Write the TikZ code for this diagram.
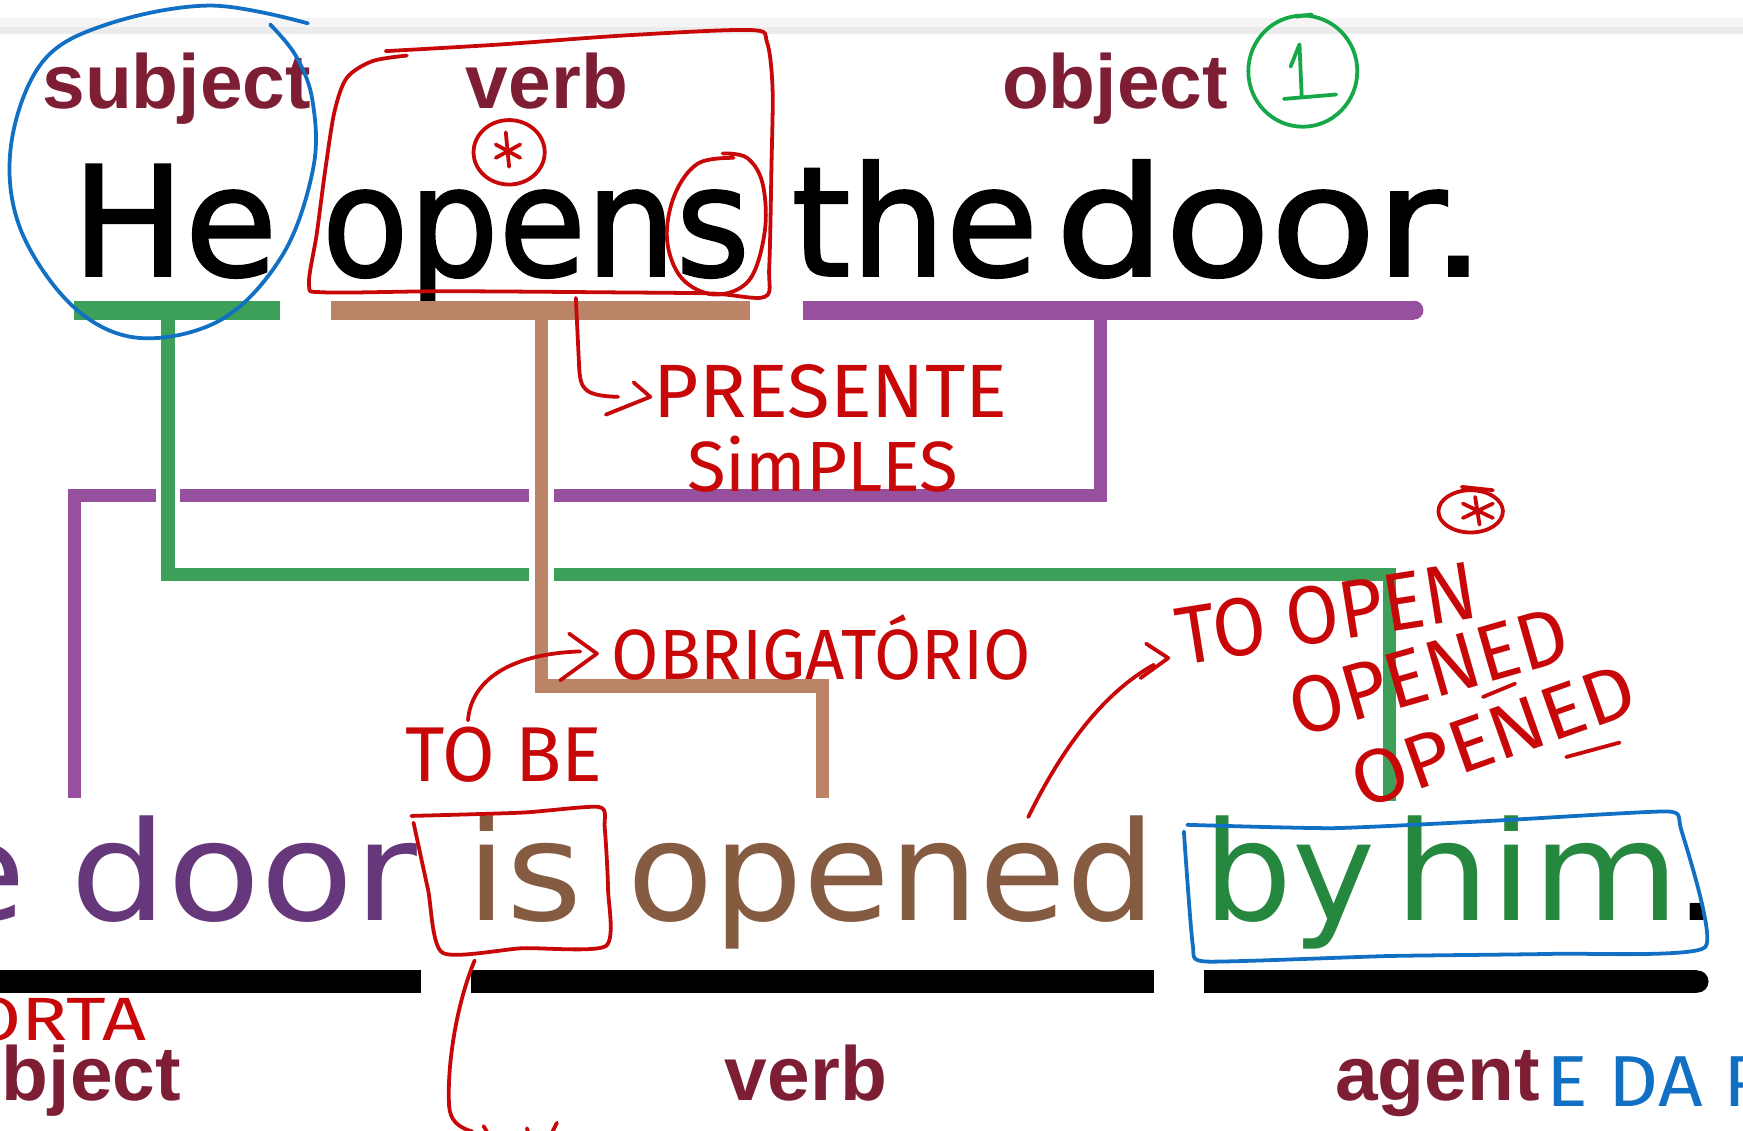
\documentclass[tikz,border=0pt]{standalone}
\usepackage{fontspec}
\usepackage{graphicx}
\setmainfont{Liberation Sans}
\newfontfamily\bigfont{DejaVu Sans}[FakeBold=1.6]
\newfontfamily\smfont{DejaVu Sans}
\newfontfamily\handfont{Fira Sans}
\definecolor{labred}{RGB}{125,30,52}
\definecolor{lgreen}{RGB}{60,160,88}
\definecolor{lbrown}{RGB}{188,132,102}
\definecolor{lpurple}{RGB}{150,80,158}
\definecolor{tpurple}{RGB}{102,55,122}
\definecolor{tbrown}{RGB}{133,92,66}
\definecolor{tgreen}{RGB}{38,135,62}
\definecolor{hred}{RGB}{200,8,8}
\definecolor{hblue}{RGB}{18,112,196}
\definecolor{hgreen}{RGB}{22,168,72}
\newcommand\fsz[1]{\fontsize{#1}{#1}\selectfont}
\begin{document}
\begin{tikzpicture}[x=1pt,y=-1pt,
  lab/.style={font=\fsz{69}\bfseries, text=labred, inner sep=0, anchor=base},
  bigw/.style={font=\bigfont\fsz{137}, text=black, inner sep=0, anchor=base},
  smw/.style={font=\smfont\fsz{124}, inner sep=0, anchor=base},
  ubar/.style={line width=17},
  blackbar/.style={line width=20, draw=black},
  conn/.style={line width=12},
  gapfill/.style={fill=white},
  hand/.style={draw=hred, line width=3.4, line cap=round, line join=round},
  handb/.style={draw=hblue, line width=3.4, line cap=round, line join=round},
  handg/.style={draw=hgreen, line width=3.4, line cap=round, line join=round},
  htext/.style={inner sep=0, anchor=base, text=hred},
]
\useasboundingbox (0,0) rectangle (1568,1017);
\clip (0,0) rectangle (1568,1017);
\fill[white] (0,0) rectangle (1568,1017);
\fill[black!4] (0,16) rectangle (1568,24);
\fill[black!8] (0,24) rectangle (1568,31);

% ---------- top labels ----------
\node[lab] (lsubj) at (159,98) {subject};
\node[lab] (lverb) at (492,98) {verb};
\node[lab] (lobj) at (1003,98) {object};

% ---------- active sentence ----------
\node[bigw] (wHe) at (157,248) {\resizebox{185pt}{\height}{He}};
\node[bigw] (wopens) at (482,248) {\resizebox{385pt}{\height}{opens}};
\node[bigw] (wthe) at (823,248) {\resizebox{222pt}{\height}{the}};
\node[bigw] (wdoor) at (1143,248) {\resizebox{387pt}{\height}{door.}};

% ---------- coordinates ----------
\coordinate (gb0) at (67,279);   \coordinate (gb1) at (252,279);
\coordinate (bb0) at (298,279);  \coordinate (bb1) at (675,279);
\coordinate (pb0) at (722,279);  \coordinate (pb1) at (1272,279);
\coordinate (gA) at (151,279);   \coordinate (gB) at (151,517);
\coordinate (gC) at (1250,517);  \coordinate (gD) at (1250,721);
\coordinate (bA) at (487,279);   \coordinate (bB) at (487,617);
\coordinate (bC) at (740,617);   \coordinate (bD) at (740,718);
\coordinate (pA) at (990,279);   \coordinate (pB) at (990,446);
\coordinate (pC) at (67,446);    \coordinate (pD) at (67,718);

% ---------- connectors ----------
\draw[conn, draw=lpurple] (pA) -- (pB) -- (pC) -- (pD);
\fill[gapfill] (140,438) rectangle (162,455);
\fill[gapfill] (476,438) rectangle (498,455);
\draw[conn, draw=lgreen] (gA) -- (gB) -- (gC) -- (gD);
\fill[gapfill] (476,509) rectangle (498,526);
\draw[conn, draw=lbrown] (bA) -- (bB) -- (bC) -- (bD);

% ---------- top bars ----------
\draw[ubar, draw=lgreen] (gb0) -- (gb1);
\draw[ubar, draw=lbrown] (bb0) -- (bb1);
\draw[ubar, draw=lpurple] (pb0) -- (pb1);
\fill[lpurple] (pb1) circle [radius=8.5];

% ---------- passive sentence ----------
\node[smw, text=tpurple, anchor=base east] (wThe2) at (24,828) {\resizebox{256pt}{\height}{The}};
\node[smw, text=tpurple] (wdoor2) at (219,828) {\resizebox{312pt}{\height}{door}};
\node[smw, text=tbrown] (wis) at (472,828) {\resizebox{105pt}{\height}{is}};
\node[smw, text=tbrown] (wopened) at (802,828) {\resizebox{475pt}{\height}{opened}};
\node[smw, text=tgreen] (wby) at (1160,828) {\resizebox{155pt}{\height}{by}};
\node[smw, text=tgreen] (whim) at (1383,828) {\resizebox{257pt}{\height}{him}};
\node[smw, text=black, anchor=base west] (wdot) at (1507,828) {.};

% ---------- bottom bars ----------
\coordinate (k0) at (0,883);    \coordinate (k1) at (379,883);
\coordinate (k2) at (424,883);  \coordinate (k3) at (1038,883);
\coordinate (k4) at (1083,883); \coordinate (k5) at (1527,883);
\draw[blackbar] (k0) -- (k1);
\draw[blackbar] (k2) -- (k3);
\draw[blackbar] (k4) -- (k5);
\fill[black] (k5) circle [radius=10];

% ---------- bottom labels ----------
\node[lab, anchor=base east] (lobj2) at (163,990) {object};
\node[lab] (lverb2) at (725,990) {verb};
\node[lab] (lagent) at (1293,990) {agent};

% ---------- red handwriting ----------
% box around verb / opens
\draw[hand] plot[smooth, tension=0.5] coordinates {(366,50) (335,55) (312,70) (301,100) (293,150) (285,210) (278,256) (292,263) (400,262) (550,263) (640,264) (688,267) (692,240) (694,150) (695,80) (690,38) (675,27) (560,32) (450,40) (347,46)};
% circled asterisk
\draw[hand] (458,137) ellipse [x radius=32, y radius=29];
\draw[hand] (455,119) -- (458,150);
\draw[hand] (446,130) -- (468,142);
\draw[hand] (446,142) -- (468,130);
% circle round the s
\draw[hand] plot[smooth, tension=0.6] coordinates {(660,142) (628,147) (607,175) (600,215) (613,250) (643,265) (674,252) (688,208) (686,165) (672,142) (650,138)};
% hook arrow to PRESENTE
\coordinate (hk0) at (518,268);
\draw[hand] (hk0) -- (521,330) .. controls (522,350) and (525,356) .. (556,357);
\draw[hand] (570,344) -- (585,357) -- (545,373);
\node[htext, font=\handfont\fsz{68}, anchor=base west] (tpres) at (588,376) {\resizebox{318pt}{\height}{PRESENTE}};
\node[htext, font=\handfont\fsz{64}, anchor=base west] (tsimp) at (618,442) {\resizebox{244pt}{\height}{SimPLES}};
% TO BE -> OBRIGATORIO
\node[htext, font=\handfont\fsz{70}, anchor=base west] (ttobe) at (365,703) {\resizebox{177pt}{\height}{TO BE}};
\coordinate (tb0) at (421,648);
\draw[hand] (tb0) .. controls (424,610) and (462,588) .. (522,586);
\draw[hand] (512,570) -- (537,588) -- (504,612);
\node[htext, font=\handfont\fsz{64}, anchor=base west] (tobrig) at (550,611) {\resizebox{377pt}{\height}{OBRIGATÓRIO}};
% box around is
\draw[hand] plot[smooth, tension=0.4] coordinates {(372,740) (385,800) (398,857) (470,853) (545,851) (547,800) (544,745) (539,726) (470,731) (370,734)};
\draw[hand] (427,864) .. controls (410,905) and (402,960) .. (404,995) .. controls (405,1008) and (412,1014) .. (425,1018);
\draw[hand] (435,1013) -- (438,1018);
\draw[hand] (474,1015) -- (475,1018);
\draw[hand] (501,1010) -- (497,1018);
% PORTA
\node[htext, font=\handfont\fsz{55}, anchor=base east] (tporta) at (132,936) {\resizebox{200pt}{\height}{PORTA}};
% opened -> TO OPEN
\coordinate (op0) at (925,735);
\draw[hand] (op0) .. controls (958,668) and (995,622) .. (1038,598);
\draw[hand] (1031,579) -- (1051,592) -- (1026,610);
\node[htext, font=\handfont\fsz{74}, rotate=9] (ttoopen) at (1197,577) {\resizebox{272pt}{\height}{TO OPEN}};
\node[htext, font=\handfont\fsz{72}, rotate=16] (topened1) at (1292,628) {\resizebox{258pt}{\height}{OPENED}};
\node[htext, font=\handfont\fsz{68}, rotate=19.5] (topened2) at (1351,684) {\resizebox{266pt}{\height}{OPENED}};
\draw[hand] (1334,627) -- (1363,615);
\draw[hand] (1409,681) -- (1457,668);
% circled asterisk near TO OPEN
\draw[hand] (1323,460) ellipse [x radius=29, y radius=19];
\draw[hand] (1315,438) -- (1343,441);
\draw[hand] (1327,447) -- (1331,472);
\draw[hand] (1316,453) -- (1343,466);
\draw[hand] (1316,466) -- (1343,453);

% ---------- green handwriting ----------
\draw[handg] (1172,64) ellipse [x radius=49, y radius=50];
\draw[handg] (1166,15) -- (1180,13);
\draw[handg] (1161,60) -- (1169,40) -- (1171,87);
\draw[handg] (1155,89) -- (1202,85);

% ---------- blue handwriting ----------
\draw[handb] plot[smooth, tension=0.6] coordinates {(277,21) (189,5) (96,22) (38,56) (10,130) (18,205) (65,275) (125,304) (200,287) (255,228) (282,150) (281,90) (266,50) (243,22)};
\draw[handb] plot[smooth, tension=0.3] coordinates {(1068,742) (1200,745) (1350,738) (1500,730) (1512,745) (1534,852) (1400,858) (1250,860) (1085,865) (1073,850) (1065,748)};
\node[inner sep=0, anchor=base west, text=hblue, font=\handfont\fsz{65}] (tagente) at (1391,995) {\resizebox{200pt}{\height}{E DA P}};
\end{tikzpicture}
\end{document}
